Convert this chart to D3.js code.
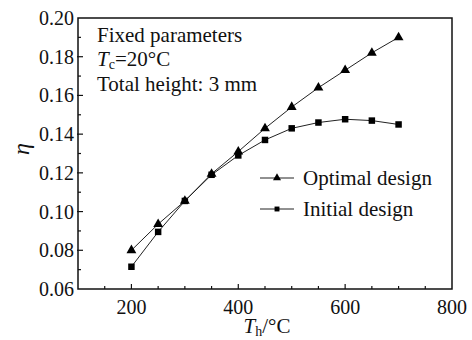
<!DOCTYPE html>
<html>
<head>
<meta charset="utf-8">
<script src="https://cdn.jsdelivr.net/npm/d3@7"></script>
<style>
  body { margin: 0; background: #fff; }
  text { font-family: "Liberation Serif", "Times New Roman", serif; fill: #111; }
</style>
</head>
<body>
<script>
// data
const temps = [200, 250, 300, 350, 400, 450, 500, 550, 600, 650, 700]
const optimal = [0.080, 0.0935, 0.1055, 0.1195, 0.131, 0.143, 0.154, 0.164, 0.173, 0.182, 0.190]
const initial = [0.0715, 0.0895, 0.1055, 0.119, 0.129, 0.137, 0.143, 0.146, 0.1477, 0.147, 0.145]
const xTicks = [200, 400, 600, 800]
const yTicks = [0.06, 0.08, 0.10, 0.12, 0.14, 0.16, 0.18, 0.20]
const notes = ["Fixed parameters", "Tc=20°C", "Total height: 3 mm"]
const legendNames = ["Optimal design", "Initial design"]

const W = 472, H = 340
const m = { left: 78, top: 18, right: 452, bottom: 289 }

const svg = d3.select("body").append("svg")
  .attr("width", W).attr("height", H)

const x = d3.scaleLinear().domain([100, 800]).range([m.left, m.right])
const y = d3.scaleLinear().domain([0.06, 0.20]).range([m.bottom, m.top])

// frame
svg.append("rect")
  .attr("x", m.left).attr("y", m.top)
  .attr("width", m.right - m.left).attr("height", m.bottom - m.top)
  .attr("fill", "none").attr("stroke", "#111").attr("stroke-width", 1.5)

// x ticks (inward)
const xMinor = d3.range(150, 800, 50).filter(v => v % 200 != 0)
const gx = svg.append("g")
gx.selectAll("line.maj").data(xTicks.filter(v => v < 800)).join("line")
  .attr("x1", d => x(d)).attr("x2", d => x(d))
  .attr("y1", m.bottom).attr("y2", m.bottom - 5)
  .attr("stroke", "#111").attr("stroke-width", 1.2)
gx.selectAll("line.min").data(xMinor).join("line")
  .attr("x1", d => x(d)).attr("x2", d => x(d))
  .attr("y1", m.bottom).attr("y2", m.bottom - 3)
  .attr("stroke", "#111").attr("stroke-width", 1.2)
gx.selectAll("text").data(xTicks).join("text")
  .attr("x", d => x(d)).attr("y", m.bottom + 25)
  .attr("text-anchor", "middle").attr("font-size", 20)
  .text(d => d)

// y ticks
const yMinor = d3.range(7, 20, 2).map(v => v / 100)
const gy = svg.append("g")
gy.selectAll("line.maj").data(yTicks.slice(1, -1)).join("line")
  .attr("x1", m.left - 1).attr("x2", m.left + 5)
  .attr("y1", d => y(d)).attr("y2", d => y(d))
  .attr("stroke", "#111").attr("stroke-width", 1.2)
gy.selectAll("line.min").data(yMinor).join("line")
  .attr("x1", m.left).attr("x2", m.left + 3)
  .attr("y1", d => y(d)).attr("y2", d => y(d))
  .attr("stroke", "#111").attr("stroke-width", 1.2)
gy.selectAll("text").data(yTicks).join("text")
  .attr("x", m.left - 4).attr("y", d => y(d) + 7)
  .attr("text-anchor", "end").attr("font-size", 20)
  .text(d => d.toFixed(2))

// axis titles
const xt = svg.append("text")
  .attr("x", 267).attr("y", 333)
  .attr("text-anchor", "middle").attr("font-size", 21)
xt.append("tspan").attr("font-style", "italic").text("T")
xt.append("tspan").attr("font-size", 14).attr("dy", 3).text("h")
xt.append("tspan").attr("dy", -3).text("/°C")

svg.append("text")
  .attr("transform", "translate(29,149) rotate(-90)")
  .attr("text-anchor", "middle").attr("font-size", 24)
  .attr("font-style", "italic")
  .text("η")

// notes
svg.append("text").attr("x", 97).attr("y", 42).attr("font-size", 21).text(notes[0])
const tc = svg.append("text").attr("x", 97).attr("y", 66).attr("font-size", 21)
tc.append("tspan").attr("font-style", "italic").text("T")
tc.append("tspan").attr("font-size", 14).attr("dy", 3).text("c")
tc.append("tspan").attr("dy", -3).text("=20°C")
svg.append("text").attr("x", 97).attr("y", 91).attr("font-size", 21).text(notes[2])

// series
const line = d3.line().x((d, i) => x(temps[i])).y(d => y(d))
const tri = d3.symbol().type(d3.symbolTriangle).size(42)
const sq = d3.symbol().type(d3.symbolSquare).size(42)

function drawSeries(vals, sym) {
  svg.append("path").datum(vals)
    .attr("d", line).attr("fill", "none")
    .attr("stroke", "#222").attr("stroke-width", 1)
  svg.append("g").selectAll("path").data(vals).join("path")
    .attr("transform", (d, i) => `translate(${x(temps[i])},${y(d)})`)
    .attr("d", sym).attr("fill", "#000")
}
drawSeries(initial, sq)
drawSeries(optimal, tri)

// legend
const legY = [178, 209]
const syms = [d3.symbol().type(d3.symbolTriangle).size(28), d3.symbol().type(d3.symbolSquare).size(24)]
legendNames.forEach((name, i) => {
  svg.append("line")
    .attr("x1", 260).attr("x2", 294).attr("y1", legY[i]).attr("y2", legY[i])
    .attr("stroke", "#222").attr("stroke-width", 1)
  svg.append("path")
    .attr("transform", `translate(277,${legY[i]})`)
    .attr("d", syms[i]).attr("fill", "#000")
  svg.append("text").attr("x", 303).attr("y", legY[i] + 7)
    .attr("font-size", 21).text(name)
})
</script>
</body>
</html>
